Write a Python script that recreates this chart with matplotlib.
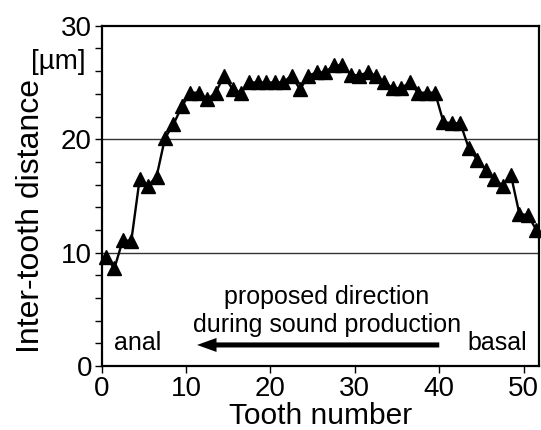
import matplotlib
matplotlib.use('agg')
import matplotlib.pyplot as plt
import numpy as np

plt.rcParams['font.family'] = ['Liberation Sans', 'DejaVu Sans']

# tooth positions along the file and inter-tooth distance (um)
tooth = np.arange(52) + 0.5
distance = [
    9.65, 8.6, 11.1, 11.0, 16.5, 15.9, 16.7, 20.1, 21.3, 22.9,
    24.1, 24.1, 23.5, 24.1, 25.6, 24.4, 24.1, 25.0, 25.0, 25.0,
    25.0, 25.0, 25.6, 24.4, 25.6, 25.9, 25.9, 26.5, 26.5, 25.7,
    25.6, 25.9, 25.6, 25.0, 24.5, 24.5, 25.0, 24.1, 24.1, 24.1,
    21.5, 21.4, 21.4, 19.2, 18.2, 17.3, 16.5, 15.9, 16.8, 13.4,
    13.3, 12.0,
]
x_ticks = [0, 10, 20, 30, 40, 50]
y_ticks = [0, 10, 20, 30]


def main():
    fig = plt.figure(figsize=(5.41, 4.30), dpi=100)
    ax = fig.add_axes([0.188, 0.149, 0.808, 0.791])

    for g in [10, 20]:
        ax.axhline(g, color='#333333', lw=1.0, zorder=1)

    ax.plot(tooth, distance, color='black', lw=1.7, marker='^',
            markersize=10, clip_on=False, zorder=3)

    ax.set_xlim(0, 51.8)
    ax.set_ylim(0, 30)
    ax.set_xticks(x_ticks)
    ax.set_yticks(y_ticks)
    ax.set_yticks(np.arange(0, 31, 2), minor=True)
    ax.tick_params(axis='both', which='both', direction='out', length=5,
                   width=1, labelsize=20, pad=2)
    ax.tick_params(axis='x', which='minor', length=0)
    for s in ax.spines.values():
        s.set_linewidth(1.6)

    ax.set_xlabel('Tooth number', fontsize=21.5, labelpad=0)
    ax.set_ylabel('Inter-tooth distance', fontsize=23)
    ax.yaxis.set_label_coords(-0.128, 0.44)
    ax.text(-1.9, 26.8, '[µm]', fontsize=20, ha='right', va='center')

    ax.text(26.7, 6.1, 'proposed direction', fontsize=18,
            ha='center', va='center')
    ax.text(26.7, 3.6, 'during sound production', fontsize=18,
            ha='center', va='center')
    ax.text(4.3, 2.0, 'anal', fontsize=18, ha='center', va='center')
    ax.text(46.9, 2.0, 'basal', fontsize=18, ha='center', va='center')
    ax.annotate('', xy=(11.3, 1.85), xytext=(40, 1.85),
                arrowprops=dict(arrowstyle='simple,head_length=1.0,'
                                'head_width=0.72,tail_width=0.26',
                                mutation_scale=14, fc='black', ec='none',
                                shrinkA=0, shrinkB=0))

    fig.savefig('out.png', dpi=100)


if __name__ == '__main__':
    main()
